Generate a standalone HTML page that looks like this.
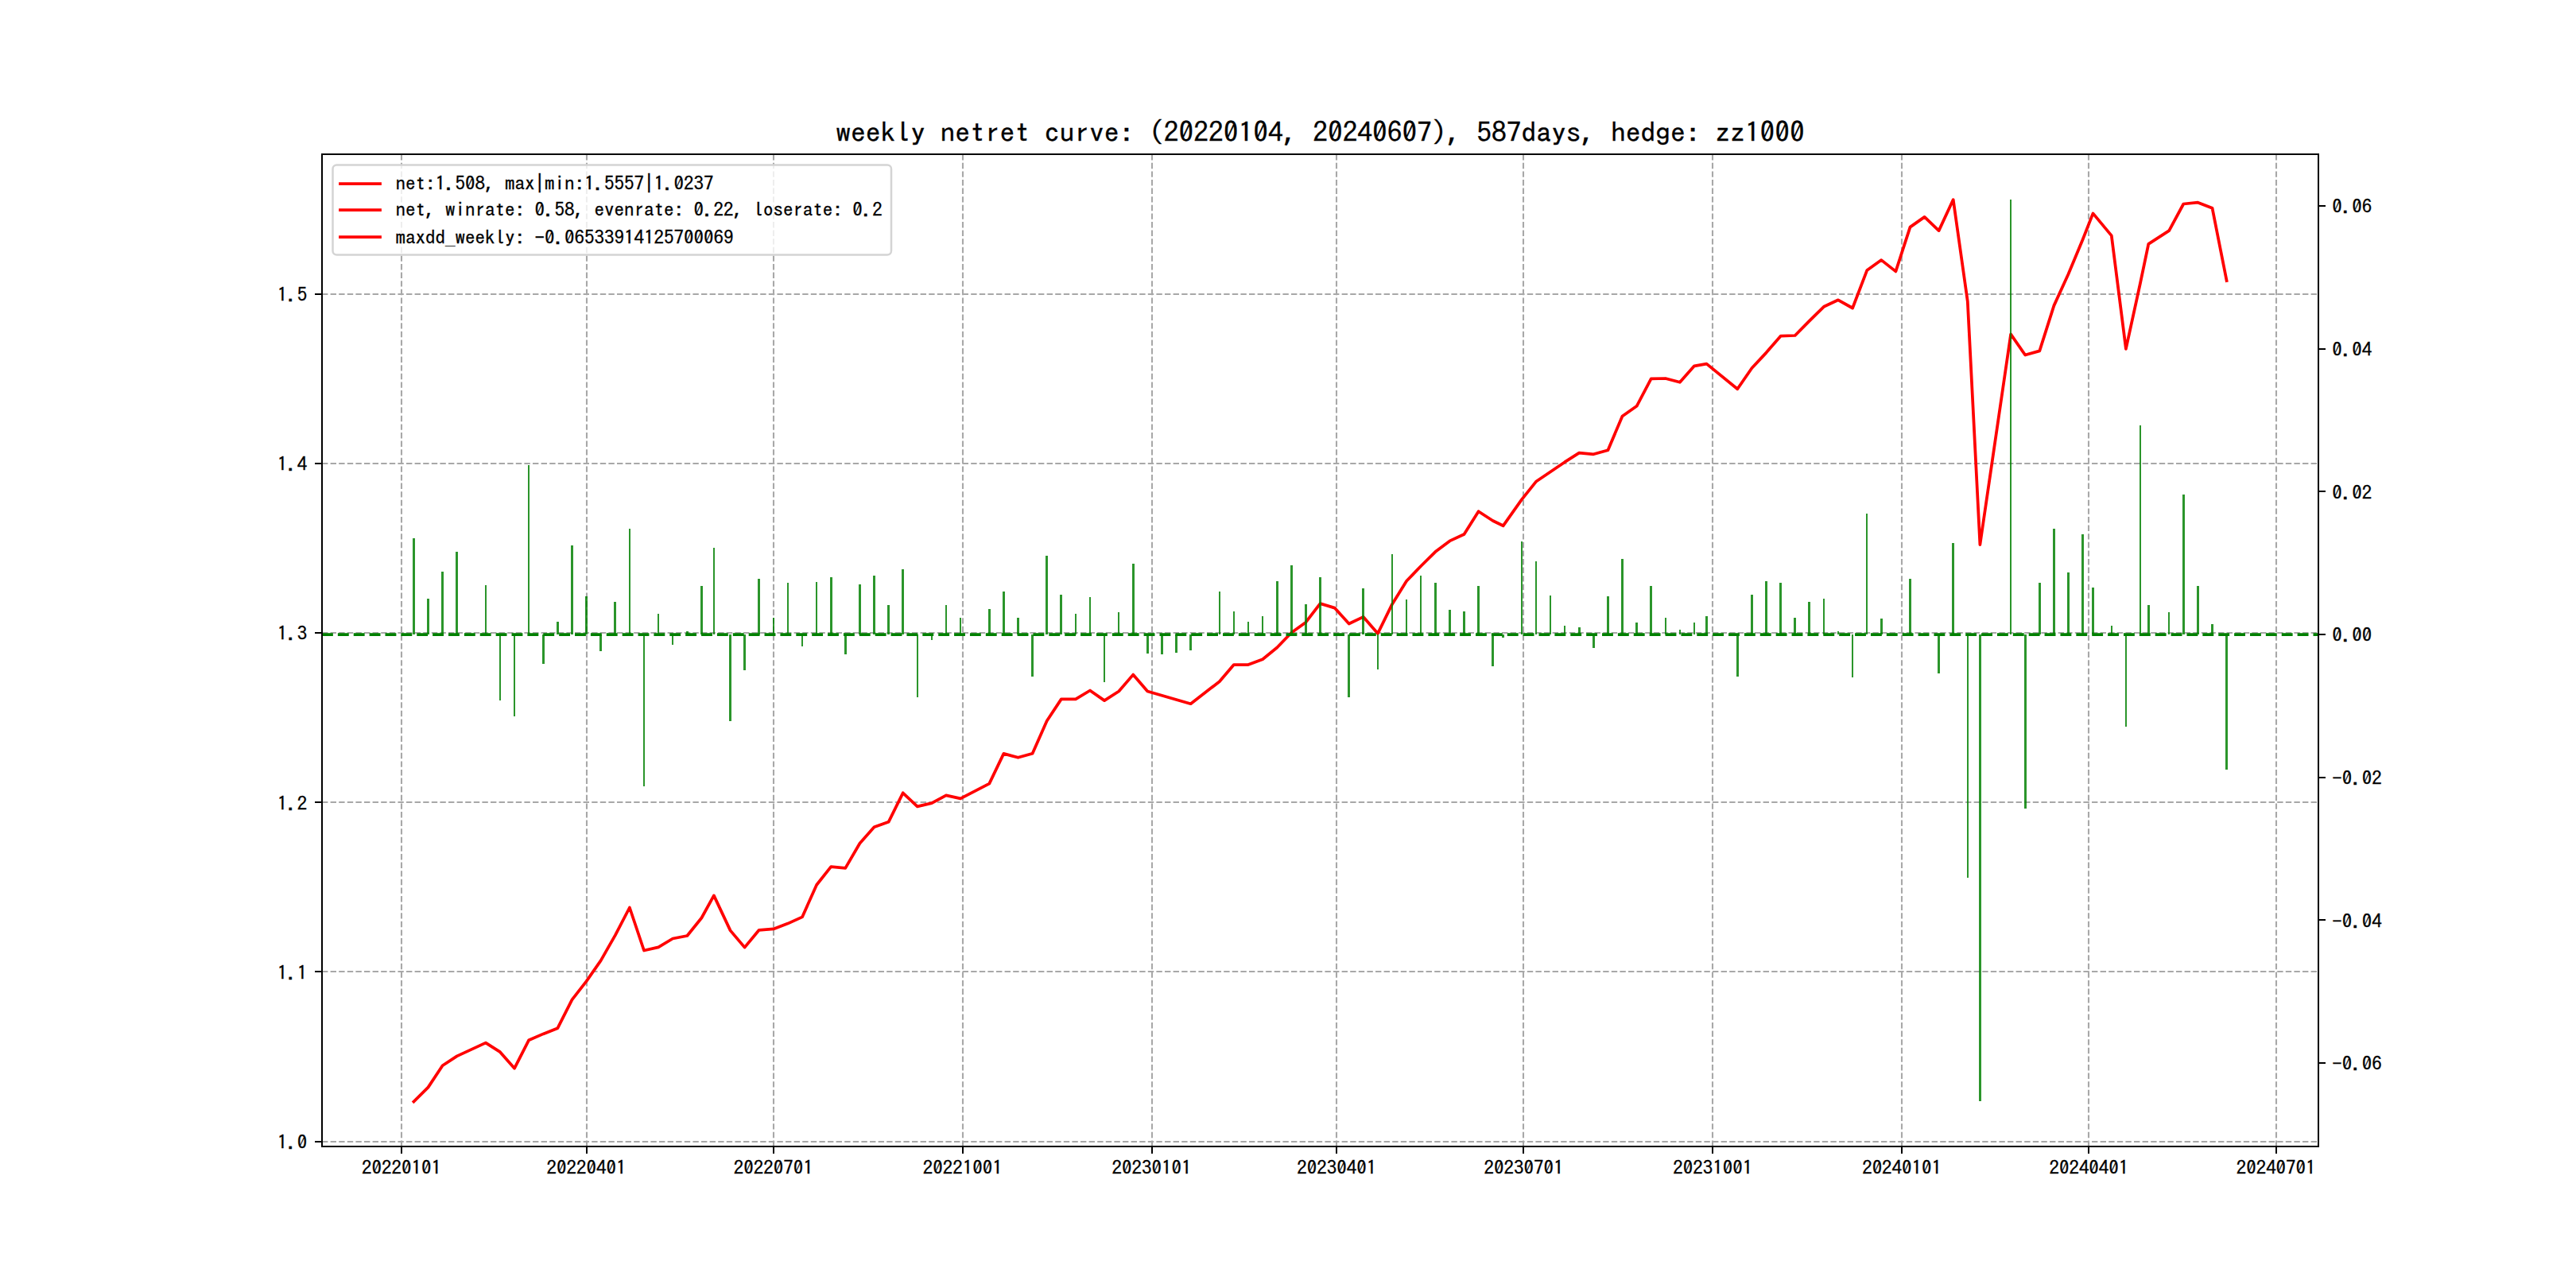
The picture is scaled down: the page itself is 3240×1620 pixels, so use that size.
<!DOCTYPE html>
<html lang="en"><head><meta charset="utf-8"><title>weekly netret curve</title>
<style>html,body{margin:0;padding:0;background:#fff}body{width:3240px;height:1620px;overflow:hidden}svg{display:block}text{font-family:"IPAGothic","Liberation Mono",monospace;fill:#000;stroke:#000;stroke-width:0.28px}</style></head><body>
<svg width="3240" height="1620" viewBox="0 0 3240 1620">
<rect width="3240" height="1620" fill="#fff"/>
<g stroke="#a8a8a8" stroke-width="2.08" stroke-dasharray="7.4 3.2" fill="none">
<path d="M505.00 1441.80V194.40"/>
<path d="M738.00 1441.80V194.40"/>
<path d="M973.00 1441.80V194.40"/>
<path d="M1211.00 1441.80V194.40"/>
<path d="M1449.00 1441.80V194.40"/>
<path d="M1681.00 1441.80V194.40"/>
<path d="M1916.00 1441.80V194.40"/>
<path d="M2154.00 1441.80V194.40"/>
<path d="M2392.00 1441.80V194.40"/>
<path d="M2627.00 1441.80V194.40"/>
<path d="M2863.00 1441.80V194.40"/>
<path d="M405.00 1436.00H2916.00"/>
<path d="M405.00 1222.00H2916.00"/>
<path d="M405.00 1009.00H2916.00"/>
<path d="M405.00 796.00H2916.00"/>
<path d="M405.00 583.00H2916.00"/>
<path d="M405.00 370.00H2916.00"/>
</g>
<path d="M520.4 1385.5L538.5 1367.6L556.6 1340.3L574.7 1328.4L610.9 1311.6L629.0 1323.2L647.1 1343.7L665.2 1308.2L683.3 1300.4L701.4 1293.2L719.5 1257.3L737.6 1234.1L755.7 1208.1L773.8 1176.4L791.9 1141.5L810.0 1195.5L828.1 1191.4L846.2 1180.5L864.3 1177.0L882.4 1154.5L897.9 1126.4L918.6 1170.4L936.6 1191.6L954.7 1169.8L972.8 1168.4L990.9 1161.6L1009.0 1153.4L1027.1 1113.0L1045.2 1090.2L1063.3 1091.9L1081.4 1060.8L1099.5 1040.3L1117.6 1033.8L1135.7 997.3L1153.8 1014.3L1171.9 1010.2L1190.0 1000.3L1208.1 1004.4L1244.3 985.6L1262.4 947.9L1280.5 952.8L1298.6 947.7L1316.7 906.7L1334.8 879.4L1352.9 879.4L1371.0 868.5L1389.1 881.1L1407.2 869.5L1425.2 848.6L1443.3 869.5L1461.4 874.7L1479.5 880.0L1497.6 885.2L1533.8 857.2L1551.9 836.0L1570.0 836.0L1588.1 829.2L1606.2 814.5L1624.3 795.7L1642.4 782.7L1660.5 759.1L1678.6 764.6L1696.7 784.5L1714.8 775.9L1732.9 796.8L1751.0 759.9L1769.1 730.8L1787.2 712.0L1805.3 694.1L1823.4 680.4L1841.5 672.0L1859.6 643.2L1877.7 655.0L1890.6 661.3L1913.9 628.4L1931.9 605.8L1950.0 593.5L1968.1 581.2L1986.2 569.6L2004.3 571.3L2022.4 566.2L2040.5 523.5L2058.6 510.8L2076.7 476.3L2094.8 476.0L2112.9 480.8L2131.0 460.3L2146.5 457.6L2185.3 489.3L2203.4 463.0L2221.5 443.6L2239.6 422.7L2257.7 422.0L2275.8 403.6L2293.9 385.8L2312.0 377.3L2330.1 387.5L2348.2 340.1L2366.3 327.1L2384.4 341.4L2402.5 285.6L2420.6 272.9L2438.6 290.1L2456.7 251.1L2474.8 379.3L2490.4 685.1L2529.1 420.4L2547.2 446.5L2565.3 441.4L2583.4 384.4L2601.5 344.8L2619.6 301.2L2632.5 268.4L2655.8 296.4L2673.9 438.8L2692.0 356.0L2702.3 306.8L2728.2 290.2L2746.3 256.5L2764.4 254.7L2782.5 261.7L2800.6 353.0" fill="none" stroke="#ff0000" stroke-width="3.75" stroke-linejoin="round" stroke-linecap="square"/>
<rect x="418.5" y="207.5" width="702.5" height="113.0" rx="5" ry="5" fill="#fff" fill-opacity="0.8" stroke="#d4d4d4" stroke-width="2.5"/>
<path d="M428 231.0H478" stroke="#ff0000" stroke-width="3.75" stroke-linecap="square"/>
<text transform="translate(497.60 239.00) scale(1.0989 1)" font-size="22.750" text-anchor="start">net:1.508, max|min:1.5557|1.0237</text>
<path d="M428 264.0H478" stroke="#ff0000" stroke-width="3.75" stroke-linecap="square"/>
<text transform="translate(497.60 272.30) scale(1.0989 1)" font-size="22.750" text-anchor="start">net, winrate: 0.58, evenrate: 0.22, loserate: 0.2</text>
<path d="M428 298.2H478" stroke="#ff0000" stroke-width="3.75" stroke-linecap="square"/>
<text transform="translate(497.60 306.60) scale(1.0989 1)" font-size="22.750" text-anchor="start">maxdd_weekly: -0.06533914125700069</text>
<g fill="#008000" fill-opacity="0.83" shape-rendering="crispEdges">
<rect x="519" y="677" width="3" height="121"/>
<rect x="537" y="753" width="3" height="45"/>
<rect x="555" y="719" width="3" height="79"/>
<rect x="573" y="694" width="3" height="104"/>
<rect x="610" y="736" width="2" height="62"/>
<rect x="628" y="798" width="2" height="83"/>
<rect x="646" y="798" width="2" height="103"/>
<rect x="664" y="585" width="2" height="213"/>
<rect x="682" y="798" width="3" height="37"/>
<rect x="700" y="782" width="3" height="16"/>
<rect x="718" y="686" width="3" height="112"/>
<rect x="736" y="750" width="3" height="48"/>
<rect x="754" y="798" width="3" height="21"/>
<rect x="772" y="757" width="3" height="41"/>
<rect x="791" y="665" width="2" height="133"/>
<rect x="809" y="798" width="2" height="191"/>
<rect x="827" y="772" width="2" height="26"/>
<rect x="845" y="798" width="2" height="13"/>
<rect x="863" y="794" width="3" height="4"/>
<rect x="881" y="737" width="3" height="61"/>
<rect x="897" y="689" width="2" height="109"/>
<rect x="917" y="798" width="3" height="109"/>
<rect x="935" y="798" width="3" height="45"/>
<rect x="953" y="728" width="3" height="70"/>
<rect x="972" y="777" width="2" height="21"/>
<rect x="990" y="733" width="2" height="65"/>
<rect x="1008" y="798" width="2" height="15"/>
<rect x="1026" y="732" width="2" height="66"/>
<rect x="1044" y="726" width="3" height="72"/>
<rect x="1062" y="798" width="3" height="25"/>
<rect x="1080" y="735" width="3" height="63"/>
<rect x="1098" y="724" width="3" height="74"/>
<rect x="1116" y="761" width="3" height="37"/>
<rect x="1134" y="716" width="3" height="82"/>
<rect x="1153" y="798" width="2" height="79"/>
<rect x="1171" y="798" width="2" height="7"/>
<rect x="1189" y="761" width="2" height="37"/>
<rect x="1207" y="777" width="2" height="21"/>
<rect x="1243" y="766" width="3" height="32"/>
<rect x="1261" y="744" width="3" height="54"/>
<rect x="1279" y="777" width="3" height="21"/>
<rect x="1297" y="798" width="3" height="53"/>
<rect x="1315" y="699" width="3" height="99"/>
<rect x="1333" y="748" width="3" height="50"/>
<rect x="1352" y="772" width="2" height="26"/>
<rect x="1370" y="751" width="2" height="47"/>
<rect x="1388" y="798" width="2" height="60"/>
<rect x="1406" y="770" width="2" height="28"/>
<rect x="1424" y="709" width="3" height="89"/>
<rect x="1442" y="798" width="3" height="24"/>
<rect x="1460" y="798" width="3" height="25"/>
<rect x="1478" y="798" width="3" height="23"/>
<rect x="1496" y="798" width="3" height="20"/>
<rect x="1533" y="744" width="2" height="54"/>
<rect x="1551" y="769" width="2" height="29"/>
<rect x="1569" y="782" width="2" height="16"/>
<rect x="1587" y="775" width="2" height="23"/>
<rect x="1605" y="731" width="3" height="67"/>
<rect x="1623" y="711" width="3" height="87"/>
<rect x="1641" y="760" width="3" height="38"/>
<rect x="1659" y="726" width="3" height="72"/>
<rect x="1695" y="798" width="3" height="79"/>
<rect x="1713" y="740" width="3" height="58"/>
<rect x="1732" y="798" width="2" height="44"/>
<rect x="1750" y="697" width="2" height="101"/>
<rect x="1768" y="754" width="2" height="44"/>
<rect x="1786" y="724" width="2" height="74"/>
<rect x="1804" y="733" width="3" height="65"/>
<rect x="1822" y="767" width="3" height="31"/>
<rect x="1840" y="769" width="3" height="29"/>
<rect x="1858" y="737" width="3" height="61"/>
<rect x="1876" y="798" width="3" height="40"/>
<rect x="1889" y="798" width="3" height="4"/>
<rect x="1913" y="681" width="2" height="117"/>
<rect x="1931" y="706" width="2" height="92"/>
<rect x="1949" y="749" width="2" height="49"/>
<rect x="1967" y="787" width="2" height="11"/>
<rect x="1985" y="789" width="3" height="9"/>
<rect x="2003" y="798" width="3" height="17"/>
<rect x="2021" y="750" width="3" height="48"/>
<rect x="2039" y="703" width="3" height="95"/>
<rect x="2057" y="783" width="3" height="15"/>
<rect x="2075" y="737" width="3" height="61"/>
<rect x="2094" y="777" width="2" height="21"/>
<rect x="2112" y="792" width="2" height="6"/>
<rect x="2130" y="783" width="2" height="15"/>
<rect x="2145" y="775" width="3" height="23"/>
<rect x="2184" y="798" width="3" height="53"/>
<rect x="2202" y="748" width="3" height="50"/>
<rect x="2220" y="731" width="3" height="67"/>
<rect x="2238" y="733" width="3" height="65"/>
<rect x="2256" y="777" width="3" height="21"/>
<rect x="2274" y="757" width="3" height="41"/>
<rect x="2293" y="753" width="2" height="45"/>
<rect x="2311" y="794" width="2" height="4"/>
<rect x="2329" y="798" width="2" height="54"/>
<rect x="2347" y="646" width="2" height="152"/>
<rect x="2365" y="778" width="3" height="20"/>
<rect x="2401" y="728" width="3" height="70"/>
<rect x="2437" y="798" width="3" height="49"/>
<rect x="2455" y="683" width="3" height="115"/>
<rect x="2474" y="798" width="2" height="306"/>
<rect x="2489" y="798" width="3" height="587"/>
<rect x="2528" y="251" width="2" height="547"/>
<rect x="2546" y="798" width="3" height="219"/>
<rect x="2564" y="733" width="3" height="65"/>
<rect x="2582" y="665" width="3" height="133"/>
<rect x="2600" y="720" width="3" height="78"/>
<rect x="2618" y="672" width="3" height="126"/>
<rect x="2631" y="739" width="3" height="59"/>
<rect x="2655" y="787" width="2" height="11"/>
<rect x="2673" y="798" width="2" height="116"/>
<rect x="2691" y="535" width="2" height="263"/>
<rect x="2701" y="761" width="3" height="37"/>
<rect x="2727" y="770" width="2" height="28"/>
<rect x="2745" y="622" width="3" height="176"/>
<rect x="2763" y="737" width="3" height="61"/>
<rect x="2781" y="785" width="3" height="13"/>
<rect x="2799" y="798" width="3" height="170"/>
</g>
<path d="M405 798H2916" stroke="#008000" stroke-width="3.75" stroke-dasharray="13.877 6" fill="none"/>
<rect x="405" y="194" width="2511" height="1248" fill="none" stroke="#000" stroke-width="2" shape-rendering="crispEdges"/>
<g stroke="#000" stroke-width="2" shape-rendering="crispEdges">
<path d="M505.00 1441.8V1450.5"/>
<path d="M738.00 1441.8V1450.5"/>
<path d="M973.00 1441.8V1450.5"/>
<path d="M1211.00 1441.8V1450.5"/>
<path d="M1449.00 1441.8V1450.5"/>
<path d="M1681.00 1441.8V1450.5"/>
<path d="M1916.00 1441.8V1450.5"/>
<path d="M2154.00 1441.8V1450.5"/>
<path d="M2392.00 1441.8V1450.5"/>
<path d="M2627.00 1441.8V1450.5"/>
<path d="M2863.00 1441.8V1450.5"/>
<path d="M405 1436.00H396.4"/>
<path d="M405 1222.00H396.4"/>
<path d="M405 1009.00H396.4"/>
<path d="M405 796.00H396.4"/>
<path d="M405 583.00H396.4"/>
<path d="M405 370.00H396.4"/>
<path d="M2916 259.00H2924.6"/>
<path d="M2916 439.00H2924.6"/>
<path d="M2916 618.00H2924.6"/>
<path d="M2916 798.00H2924.6"/>
<path d="M2916 978.00H2924.6"/>
<path d="M2916 1157.00H2924.6"/>
<path d="M2916 1337.00H2924.6"/>
</g>
<text transform="translate(504.92 1476.70) scale(1.0989 1)" font-size="22.750" text-anchor="middle">20220101</text>
<text transform="translate(737.59 1476.70) scale(1.0989 1)" font-size="22.750" text-anchor="middle">20220401</text>
<text transform="translate(972.84 1476.70) scale(1.0989 1)" font-size="22.750" text-anchor="middle">20220701</text>
<text transform="translate(1210.68 1476.70) scale(1.0989 1)" font-size="22.750" text-anchor="middle">20221001</text>
<text transform="translate(1448.52 1476.70) scale(1.0989 1)" font-size="22.750" text-anchor="middle">20230101</text>
<text transform="translate(1681.18 1476.70) scale(1.0989 1)" font-size="22.750" text-anchor="middle">20230401</text>
<text transform="translate(1916.44 1476.70) scale(1.0989 1)" font-size="22.750" text-anchor="middle">20230701</text>
<text transform="translate(2154.28 1476.70) scale(1.0989 1)" font-size="22.750" text-anchor="middle">20231001</text>
<text transform="translate(2392.11 1476.70) scale(1.0989 1)" font-size="22.750" text-anchor="middle">20240101</text>
<text transform="translate(2627.37 1476.70) scale(1.0989 1)" font-size="22.750" text-anchor="middle">20240401</text>
<text transform="translate(2862.62 1476.70) scale(1.0989 1)" font-size="22.750" text-anchor="middle">20240701</text>
<text transform="translate(386.30 1444.82) scale(1.0989 1)" font-size="22.750" text-anchor="end">1.0</text>
<text transform="translate(386.30 1231.66) scale(1.0989 1)" font-size="22.750" text-anchor="end">1.1</text>
<text transform="translate(386.30 1018.50) scale(1.0989 1)" font-size="22.750" text-anchor="end">1.2</text>
<text transform="translate(386.30 805.34) scale(1.0989 1)" font-size="22.750" text-anchor="end">1.3</text>
<text transform="translate(386.30 592.18) scale(1.0989 1)" font-size="22.750" text-anchor="end">1.4</text>
<text transform="translate(386.30 379.02) scale(1.0989 1)" font-size="22.750" text-anchor="end">1.5</text>
<text transform="translate(2933.20 268.26) scale(1.0989 1)" font-size="22.750" text-anchor="start">0.06</text>
<text transform="translate(2933.20 447.94) scale(1.0989 1)" font-size="22.750" text-anchor="start">0.04</text>
<text transform="translate(2933.20 627.62) scale(1.0989 1)" font-size="22.750" text-anchor="start">0.02</text>
<text transform="translate(2933.20 807.30) scale(1.0989 1)" font-size="22.750" text-anchor="start">0.00</text>
<text transform="translate(2933.20 986.98) scale(1.0989 1)" font-size="22.750" text-anchor="start">−0.02</text>
<text transform="translate(2933.20 1166.66) scale(1.0989 1)" font-size="22.750" text-anchor="start">−0.04</text>
<text transform="translate(2933.20 1346.34) scale(1.0989 1)" font-size="22.750" text-anchor="start">−0.06</text>
<text transform="translate(1660.50 178.50) scale(1.0989 1)" font-size="34.125" text-anchor="middle">weekly netret curve: (20220104, 20240607), 587days, hedge: zz1000</text>
</svg></body></html>
